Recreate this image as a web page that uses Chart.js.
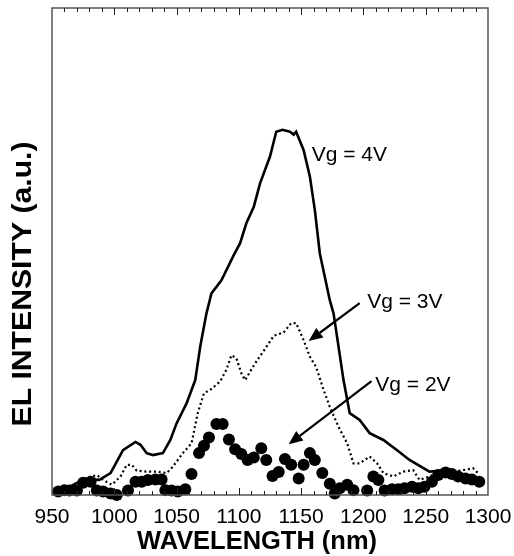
<!DOCTYPE html>
<html>
<head>
<meta charset="utf-8">
<script src="https://cdn.jsdelivr.net/npm/chart.js@4/dist/chart.umd.min.js"></script>
<style>
  html, body { margin: 0; padding: 0; background: #fff; }
  #wrap { width: 514px; height: 556px; }
</style>
</head>
<body>
<div id="wrap"><canvas id="el_chart"></canvas></div>
<script>
// wavelength (nm) / intensity (a.u., 0-100 of the frame)
const wl_4v = [952, 970, 978, 988, 997, 1007, 1017, 1021, 1026, 1031, 1039, 1045, 1050, 1058, 1065, 1069, 1074, 1078, 1086, 1096, 1101, 1106, 1112, 1117, 1125, 1130, 1135, 1141, 1144, 1146, 1152, 1157, 1161, 1165, 1173, 1176, 1180, 1184, 1189, 1197, 1205, 1216, 1227, 1237, 1253, 1270, 1280, 1294]
const int_4v = [0, 2.5, 3.2, 3.1, 4.5, 9.2, 10.9, 10.3, 8.6, 8.2, 8.6, 11.3, 14.7, 18.8, 23.6, 30.5, 37.3, 41.4, 44.1, 49.3, 51.7, 55.8, 59.2, 64, 69.5, 74.6, 75, 74.6, 74.0, 74.6, 70.8, 65.4, 58.5, 49.6, 40, 37.3, 30.5, 23.6, 16.8, 15.4, 12.7, 11.3, 9.2, 7.2, 4.8, 5.1, 3.8, 3.1]

const wl_3v = [972, 986, 991, 998, 1005, 1010, 1014, 1018, 1026, 1034, 1042, 1047, 1055, 1062, 1067, 1072, 1077, 1085, 1090, 1094, 1098, 1102, 1105, 1109, 1114, 1120, 1128, 1136, 1142, 1146, 1152, 1157, 1162, 1168, 1173, 1180, 1187, 1192, 1197, 1205, 1211, 1216, 1224, 1232, 1240, 1245, 1253, 1261, 1272, 1280, 1288, 1292]
const int_3v = [3.1, 4.1, 3.1, 2.1, 3.8, 6.2, 6.2, 5, 4.8, 4.8, 4.5, 5.8, 8.6, 10.6, 16.8, 20.9, 21.6, 23.3, 25.7, 28.7, 28.1, 25, 23.6, 25.3, 27.4, 29.6, 32.7, 33.4, 35.3, 35.3, 31.8, 28.4, 26.3, 21.6, 18.1, 14, 10.6, 6.5, 6.5, 7.9, 6.5, 4.5, 3.8, 4.8, 5.1, 3.1, 3.8, 4.8, 4.8, 5.1, 5.5, 4.5]

const wl_2v = [955, 960, 964, 970, 975, 981, 986, 991, 997, 1002, 1011, 1017, 1022, 1027, 1033, 1038, 1041, 1046, 1051, 1057, 1062, 1068, 1072, 1076, 1082, 1087, 1092, 1097, 1102, 1107, 1112, 1118, 1122, 1127, 1132, 1137, 1142, 1148, 1152, 1157, 1161, 1167, 1173, 1177, 1181, 1187, 1192, 1203, 1208, 1212, 1217, 1223, 1228, 1233, 1239, 1244, 1249, 1255, 1260, 1266, 1271, 1276, 1282, 1287, 1293]
const int_2v = [0.7, 1, 0.9, 0.9, 2.5, 2.7, 0.9, 0.7, 0.3, 0, 0.9, 2.7, 2.7, 3.1, 3.2, 3.2, 1, 0.9, 0.7, 1.2, 4.3, 8.6, 10.1, 11.8, 14.6, 14.6, 11.4, 9.4, 8.4, 7.2, 7.7, 9.6, 7.2, 3.9, 4.7, 7.4, 6.2, 3.4, 6.2, 8.6, 7.2, 4.5, 2.3, 0.3, 1.4, 2.1, 1, 0.9, 3.8, 3.1, 0.9, 1.2, 1.2, 1.4, 1.7, 1.4, 1.7, 2.7, 4.1, 4.6, 4.3, 3.8, 3.4, 3.2, 2.7]

const x_min = 950
const x_max = 1300
const x_major = 50
const x_minor = 10

const x_title = 'WAVELENGTH (nm)'
const y_title = 'EL INTENSITY (a.u.)'

// labels: text, text anchor (wl, value), arrow from / to (wl, value)
const labels = [
    { text: 'Vg = 4V', at: [1158.5, 69.8], arrow: null },
    { text: 'Vg = 3V', at: [1203, 39.6], arrow: [[1197, 39.4], [1156, 31.6]] },
    { text: 'Vg = 2V', at: [1209.5, 22.6], arrow: [[1206.5, 23.4], [1140, 10.4]] }
]

const FONT = "'Liberation Sans', Arial, Helvetica, sans-serif"

function toXY(ds_x, ds_y) {
    return ds_x.map((v, i) => ({ x: v, y: ds_y[i] }))
}

// draws text stretched along its own direction to a given length
function wideText(ctx, text, cx, cy, len, rot) {
    const w = ctx.measureText(text).width
    ctx.save()
    ctx.translate(cx, cy)
    ctx.rotate(rot)
    ctx.scale(len / w, 1)
    ctx.fillText(text, 0, 0)
    ctx.restore()
}

const framePlugin = {
    id: 'frame',
    afterDraw(chart) {
        const ctx = chart.ctx
        const a = chart.chartArea
        const xs = chart.scales.x
        const ys = chart.scales.y
        ctx.save()

        // box
        ctx.strokeStyle = '#555'
        ctx.lineWidth = 1.5
        ctx.strokeRect(a.left, a.top, a.right - a.left, a.bottom - a.top)

        // inward ticks, top and bottom
        ctx.strokeStyle = '#222'
        ctx.lineWidth = 1
        for (let v = x_min + x_minor; v < x_max; v += x_minor) {
            const px = Math.round(xs.getPixelForValue(v)) + 0.5
            const len = (v % x_major === 0) ? 7 : 4
            ctx.beginPath()
            ctx.moveTo(px, a.bottom)
            ctx.lineTo(px, a.bottom - len)
            ctx.moveTo(px, a.top)
            ctx.lineTo(px, a.top + len)
            ctx.stroke()
        }

        // axis titles
        ctx.fillStyle = '#000'
        ctx.textAlign = 'center'
        ctx.textBaseline = 'alphabetic'
        ctx.font = 'bold 25px ' + FONT
        wideText(ctx, x_title, 257, 549, 240, 0)
        ctx.font = 'bold 27px ' + FONT
        wideText(ctx, y_title, 31, 284, 285, -Math.PI / 2)

        // annotations
        ctx.strokeStyle = '#000'
        ctx.font = '21px ' + FONT
        ctx.textBaseline = 'middle'
        ctx.textAlign = 'left'
        labels.forEach(l => {
            ctx.fillText(l.text, xs.getPixelForValue(l.at[0]), ys.getPixelForValue(l.at[1]))
            if (!l.arrow) return
            const x0 = xs.getPixelForValue(l.arrow[0][0])
            const y0 = ys.getPixelForValue(l.arrow[0][1])
            const x1 = xs.getPixelForValue(l.arrow[1][0])
            const y1 = ys.getPixelForValue(l.arrow[1][1])
            const ang = Math.atan2(y1 - y0, x1 - x0)
            const hl = 14, hw = 6
            const bx = x1 - hl * Math.cos(ang)
            const by = y1 - hl * Math.sin(ang)
            ctx.lineWidth = 2.2
            ctx.beginPath()
            ctx.moveTo(x0, y0)
            ctx.lineTo(bx, by)
            ctx.stroke()
            ctx.beginPath()
            ctx.moveTo(x1, y1)
            ctx.lineTo(bx + hw * Math.sin(ang), by - hw * Math.cos(ang))
            ctx.lineTo(bx - hw * Math.sin(ang), by + hw * Math.cos(ang))
            ctx.closePath()
            ctx.fill()
        })
        ctx.restore()
    }
}

const config = {
    type: 'line',
    data: {
        datasets: [
            {
                label: 'Vg = 2V',
                data: toXY(wl_2v, int_2v),
                showLine: false,
                pointRadius: 6,
                pointBackgroundColor: '#000',
                pointBorderColor: '#000',
                pointBorderWidth: 0,
                clip: false
            },
            {
                label: 'Vg = 3V',
                data: toXY(wl_3v, int_3v),
                borderColor: '#000',
                borderWidth: 2.2,
                borderDash: [2, 2.8],
                pointRadius: 0,
                tension: 0
            },
            {
                label: 'Vg = 4V',
                data: toXY(wl_4v, int_4v),
                borderColor: '#000',
                borderWidth: 2.6,
                pointRadius: 0,
                tension: 0
            }
        ]
    },
    options: {
        responsive: true,
        maintainAspectRatio: false,
        animation: false,
        layout: { padding: { top: 8, right: 26, left: 0, bottom: 0 } },
        plugins: {
            legend: { display: false },
            tooltip: { enabled: false }
        },
        scales: {
            x: {
                type: 'linear',
                min: x_min,
                max: x_max,
                grid: { display: false, drawTicks: false },
                border: { display: false },
                ticks: {
                    stepSize: x_major,
                    color: '#000',
                    padding: 10,
                    font: { family: FONT, size: 21 },
                    callback: (v) => String(v)
                },
                afterFit: (s) => {
                    s.height = 61
                    s.paddingLeft = 0
                    s.paddingRight = 0
                }
            },
            y: {
                min: 0,
                max: 100,
                grid: { display: false, drawTicks: false },
                border: { display: false },
                ticks: { display: false },
                afterFit: (s) => { s.width = 52 }
            }
        }
    },
    plugins: [framePlugin]
}

new Chart(document.getElementById('el_chart'), config)
</script>
</body>
</html>
